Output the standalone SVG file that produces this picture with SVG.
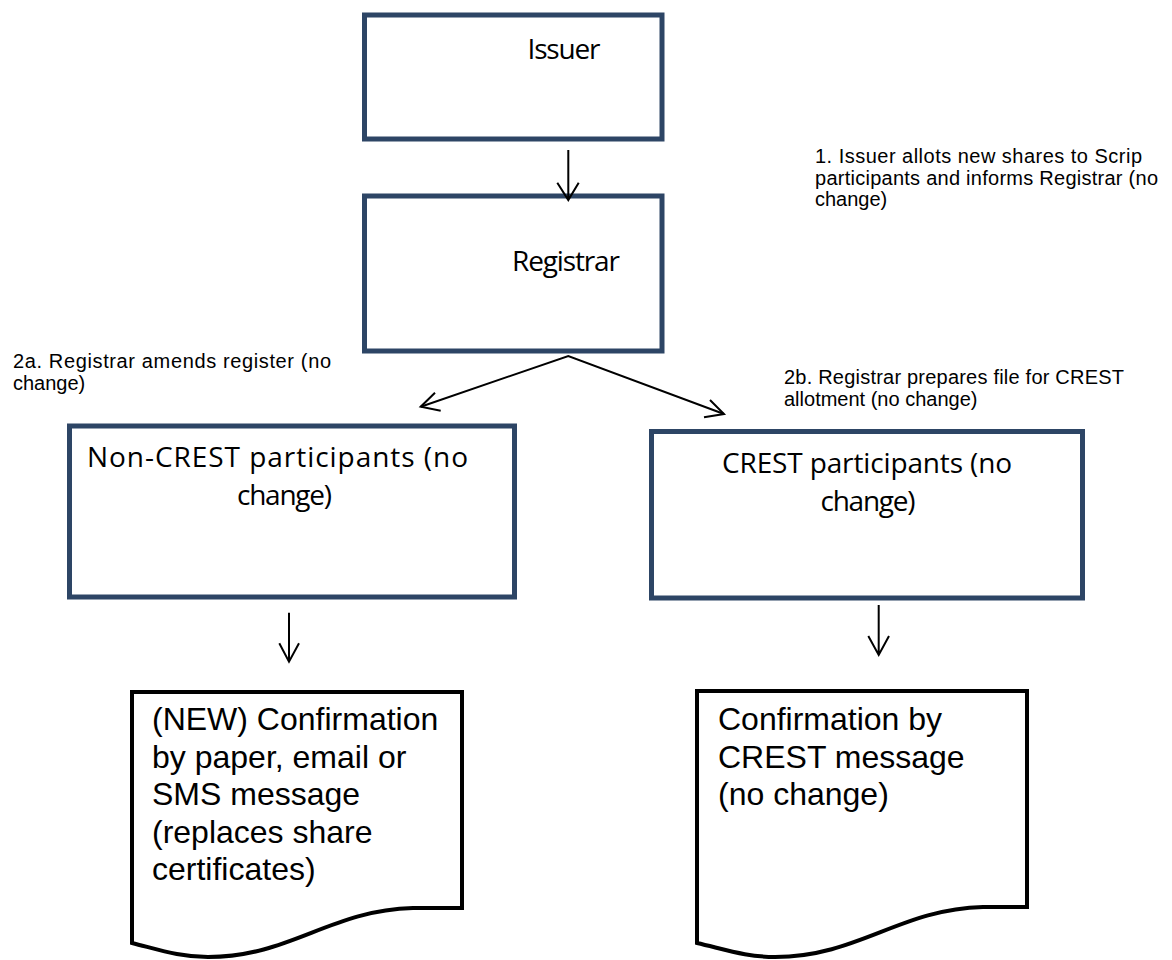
<svg xmlns="http://www.w3.org/2000/svg" width="1172" height="960" viewBox="0 0 1172 960">
<style>
.box{fill:#fff;stroke:#2D4565;stroke-width:5}
.doc{fill:#fff;stroke:#000;stroke-width:4;stroke-linejoin:miter}
.bt{font-family:"Open Sans",Lato,sans-serif;font-size:28px;fill:#000;text-anchor:middle}
.dt{font-family:"Liberation Sans",Arial,sans-serif;font-size:32px;fill:#000}
.an{font-family:"Liberation Sans",Arial,sans-serif;font-size:20px;fill:#000}
.ln{fill:none;stroke:#000;stroke-width:2}
</style>
<rect width="1172" height="960" fill="#fff"/>
<g id="issuer">
<rect class="box" x="364.5" y="15" width="297.5" height="124"/>
<text class="bt" x="564" y="59" textLength="73">Issuer</text>
</g>
<g id="registrar">
<rect class="box" x="364.5" y="196" width="297.5" height="155"/>
<text class="bt" x="566" y="271" textLength="108">Registrar</text>
</g>
<g id="noncrest">
<rect class="box" x="69.5" y="426" width="445" height="171"/>
<text class="bt" x="277.5" y="467" textLength="381">Non-CREST participants (no</text>
<text class="bt" x="284.5" y="505" textLength="95">change)</text>
</g>
<g id="crest">
<rect class="box" x="651.5" y="431.5" width="431" height="166.5"/>
<text class="bt" x="867" y="473" textLength="290">CREST participants (no</text>
<text class="bt" x="868" y="511" textLength="95">change)</text>
</g>
<g id="doc-left">
<path class="doc" d="M132,692 H462 V908 H413 C330,910 290,957 208,957 C180,957 160,950 132,943 Z"/>
<text class="dt" x="152" y="730">(NEW) Confirmation</text>
<text class="dt" x="152" y="767.5">by paper, email or</text>
<text class="dt" x="152" y="805">SMS message</text>
<text class="dt" x="152" y="842.5">(replaces share</text>
<text class="dt" x="152" y="880">certificates)</text>
</g>
<g id="doc-right">
<path class="doc" d="M697,691 H1027 V907 H983 C900,909 858,957 775,957 C747,957 727,950 697,943 Z"/>
<text class="dt" x="718" y="730">Confirmation by</text>
<text class="dt" x="718" y="767.5">CREST message</text>
<text class="dt" x="718" y="805">(no change)</text>
</g>
<g id="annotations">
<text class="an" x="815" y="163" textLength="327">1. Issuer allots new shares to Scrip</text>
<text class="an" x="815" y="185" textLength="343">participants and informs Registrar (no</text>
<text class="an" x="815" y="206">change)</text>
<text class="an" x="13" y="368" textLength="318">2a. Registrar amends register (no</text>
<text class="an" x="13" y="390">change)</text>
<text class="an" x="784" y="384" textLength="340">2b. Registrar prepares file for CREST</text>
<text class="an" x="784" y="406">allotment (no change)</text>
</g>
<g id="connectors">
<path class="ln" d="M568.3,150 V200 M557.3,182.7 L568.3,200 L578.7,182.7"/>
<path class="ln" d="M420.7,406.7 L568.3,356 L724,414"/>
<path class="ln" d="M435,392.7 L420.7,406.7 L440.7,410.7"/>
<path class="ln" d="M710,400 L724,414 L704,417.3"/>
<path class="ln" d="M289,612.7 V661.7 M279.3,643.3 L289,661.7 L299,643.3"/>
<path class="ln" d="M878.7,605 V655 M868.3,636 L878.7,655 L889,636"/>
</g>
</svg>
